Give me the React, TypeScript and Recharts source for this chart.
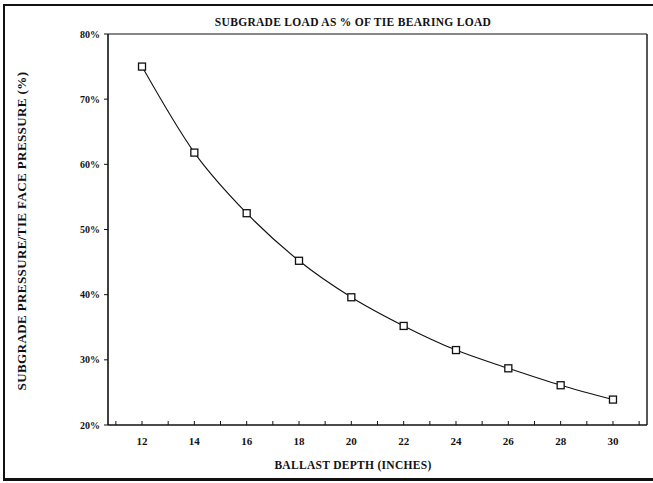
import React from 'react'
import { LineChart, Line, XAxis, YAxis, ReferenceLine } from 'recharts'

const depths = [12, 14, 16, 18, 20, 22, 24, 26, 28, 30]
const loadPct = [75.0, 61.8, 52.5, 45.2, 39.6, 35.2, 31.5, 28.7, 26.1, 23.9]
const xTicks = [11, 12, 13, 14, 15, 16, 17, 18, 19, 20, 21, 22, 23, 24, 25, 26, 27, 28, 29, 30, 31]
const yTicks = [20, 30, 40, 50, 60, 70, 80]
const X_MIN = 10.7
const X_MAX = 31.3

const data = depths.map((d, i) => ({ depth: d, load: loadPct[i] }))

const FONT = '"Liberation Serif", "DejaVu Serif", serif'

function XTick(props: any) {
  const { x, y, payload } = props
  const v = payload.value
  return (
    <g>
      <line x1={x} x2={x} y1={y} y2={y - 4} stroke="#111" strokeWidth={1} />
      {v % 2 === 0 && (
        <text x={x} y={y + 20} textAnchor="middle" fontSize={11} fontWeight="bold" fontFamily={FONT} fill="#111">
          {v}
        </text>
      )}
    </g>
  )
}

function SquareDot(props: any) {
  const { cx, cy } = props
  if (cx == null || cy == null) return null
  return <rect x={cx - 3.5} y={cy - 3.5} width={7} height={7} fill="#fff" stroke="#111" strokeWidth={1.3} />
}

export default function App() {
  return (
    <div style={{ position: 'absolute', left: 0, top: 0, width: 653, height: 483, overflow: 'hidden', background: '#fff' }}>
      <div style={{ position: 'absolute', left: 3, top: 4, width: 670, height: 472, border: '2px solid #111', borderBottomWidth: 3, pointerEvents: 'none' }} />
      <LineChart width={653} height={483} data={data} margin={{ top: 34, right: 6, bottom: 0, left: 0 }}>
        <XAxis
          type="number"
          dataKey="depth"
          domain={[X_MIN, X_MAX]}
          ticks={xTicks}
          interval={0}
          tickSize={0}
          tickMargin={0}
          tickLine={false}
          tick={<XTick />}
          axisLine={{ stroke: '#111', strokeWidth: 1.6 }}
          height={58}
        />
        <YAxis
          type="number"
          domain={[20, 80]}
          ticks={yTicks}
          interval={0}
          width={108}
          tickSize={4}
          tickMargin={4}
          tickFormatter={(v: number) => `${v}%`}
          tick={{ fontSize: 10, fontWeight: 'bold', fontFamily: FONT, fill: '#111' }}
          tickLine={{ stroke: '#111' }}
          axisLine={{ stroke: '#111', strokeWidth: 1.6 }}
        />
        <ReferenceLine y={80} stroke="#111" strokeWidth={1} />
        <ReferenceLine x={X_MAX} stroke="#111" strokeWidth={1.4} />
        <Line
          type="monotone"
          dataKey="load"
          stroke="#111"
          strokeWidth={1.1}
          dot={<SquareDot />}
          activeDot={false}
          isAnimationActive={false}
        />
        <text x={353} y={26} textAnchor="middle" fontSize={11.5} letterSpacing={0.3} fontWeight="bold" fontFamily={FONT} fill="#111">
          SUBGRADE LOAD AS % OF TIE BEARING LOAD
        </text>
        <text x={353} y={469} textAnchor="middle" fontSize={11.5} letterSpacing={0.3} fontWeight="bold" fontFamily={FONT} fill="#111">
          BALLAST DEPTH (INCHES)
        </text>
        <text
          x={0}
          y={0}
          transform="translate(26 231) rotate(-90)"
          textAnchor="middle"
          fontSize={13}
          letterSpacing={0.4}
          fontWeight="bold"
          fontFamily={FONT}
          fill="#111"
        >
          SUBGRADE PRESSURE/TIE FACE PRESSURE (%)
        </text>
      </LineChart>
    </div>
  )
}
